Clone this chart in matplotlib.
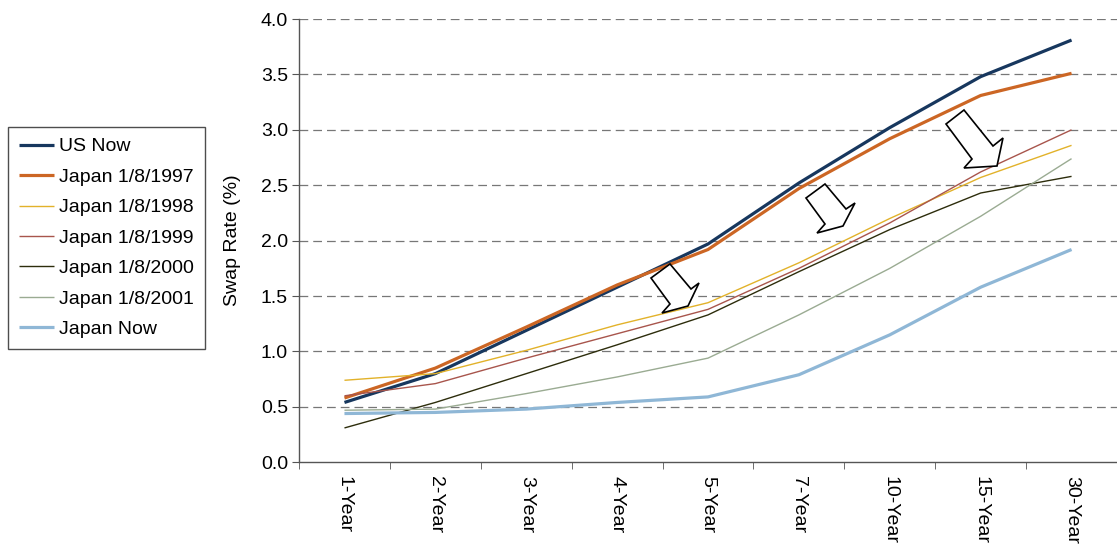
import numpy as np
import matplotlib
matplotlib.use("Agg")
import matplotlib.pyplot as plt
from matplotlib.patches import Polygon

plt.rcParams['font.family'] = ['Liberation Sans', 'DejaVu Sans']

# swap curves by tenor
tenors = ['1-Year', '2-Year', '3-Year', '4-Year', '5-Year', '7-Year', '10-Year', '15-Year', '30-Year']
us_now = [0.54, 0.80, 1.19, 1.58, 1.97, 2.52, 3.02, 3.48, 3.81]
jp_1997 = [0.58, 0.85, 1.22, 1.60, 1.92, 2.47, 2.92, 3.31, 3.51]
jp_1998 = [0.74, 0.80, 1.01, 1.24, 1.44, 1.80, 2.20, 2.57, 2.86]
jp_1999 = [0.60, 0.71, 0.94, 1.16, 1.38, 1.75, 2.16, 2.62, 3.00]
jp_2000 = [0.31, 0.54, 0.80, 1.06, 1.33, 1.72, 2.10, 2.43, 2.58]
jp_2001 = [0.47, 0.48, 0.62, 0.77, 0.94, 1.33, 1.75, 2.22, 2.74]
jp_now = [0.44, 0.45, 0.48, 0.54, 0.59, 0.79, 1.15, 1.58, 1.92]

series = [
    ('US Now', us_now, '#17375e', 2.3),
    ('Japan 1/8/1997', jp_1997, '#cc6624', 2.3),
    ('Japan 1/8/1998', jp_1998, '#e2b22a', 1.0),
    ('Japan 1/8/1999', jp_1999, '#a8554c', 1.0),
    ('Japan 1/8/2000', jp_2000, '#2d2d0c', 1.0),
    ('Japan 1/8/2001', jp_2001, '#9aab92', 1.0),
    ('Japan Now', jp_now, '#8fb7d6', 2.3),
]

FS = 14

fig = plt.figure(figsize=(11.17, 5.48), dpi=100)
ax = fig.add_axes([0.2677, 0.1564, 0.7323, 0.8089])

x = np.arange(len(tenors))
handles = []
for name, vals, color, lw in series:
    h, = ax.plot(x, vals, color=color, lw=lw, label=name, solid_capstyle='butt')
    handles.append(h)

ax.set_xlim(-0.5, len(tenors) - 0.5)
ax.set_ylim(0, 4.0)
ax.set_yticks(np.arange(0, 4.01, 0.5))
ax.set_yticklabels([f'{v:.1f}' for v in np.arange(0, 4.01, 0.5)], fontsize=FS)
ax.set_xticks(x)
ax.set_xticklabels(tenors, rotation=270, fontsize=FS, va='top', ha='center')
ax.set_xticks(np.arange(-0.5, len(tenors), 1.0), minor=True)
ax.tick_params(axis='x', which='major', length=0, pad=10)
ax.tick_params(axis='x', which='minor', length=5, color='#555555')
ax.tick_params(axis='y', length=5, color='#555555', pad=3)

for v in np.arange(0.5, 4.01, 0.5):
    ax.axhline(v, color='#777777', lw=0.9, ls=(0, (7, 4)), zorder=0)

for s in ['top', 'right']:
    ax.spines[s].set_visible(False)
for s in ['left', 'bottom']:
    ax.spines[s].set_color('#555555')
    ax.spines[s].set_linewidth(1.0)

ax.set_ylabel('Swap Rate (%)', fontsize=FS, labelpad=14)

leg = fig.legend(handles=handles, loc='upper left', bbox_to_anchor=(0.007, 0.768),
                 fontsize=FS, frameon=True, fancybox=False, handlelength=1.85,
                 handletextpad=0.25, labelspacing=0.66, borderpad=0.55,
                 borderaxespad=0)
leg.get_frame().set_edgecolor('#222222')
leg.get_frame().set_linewidth(1.0)

# block arrows showing the curve moving down (pixel outlines, y from top)
arrows = [
    [(651, 278), (670, 264), (691, 289), (699, 283), (688, 306), (662, 313), (670, 304)],
    [(806, 198), (825, 184), (846, 209), (855, 203), (843, 226), (817, 233), (825, 224)],
    [(946, 124), (964, 110), (993, 146), (1003, 138), (997, 166), (964, 168), (972, 159)],
]
W, H = 1117, 548
for pts in arrows:
    verts = [(px / W, 1 - py / H) for px, py in pts]
    fig.patches.append(Polygon(verts, closed=True, facecolor='white', edgecolor='black',
                               lw=1.2, transform=fig.transFigure, zorder=5))

fig.savefig('out.png', dpi=100)
